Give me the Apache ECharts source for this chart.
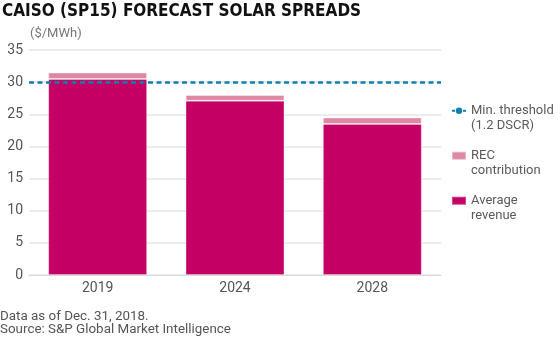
<!DOCTYPE html>
<html><head><meta charset="utf-8">
<script src="https://cdn.jsdelivr.net/npm/echarts@6/dist/echarts.min.js"></script>
<style>html,body{margin:0;padding:0;background:#fff}#c{width:560px;height:339px}</style>
</head><body><div id="c"></div>
<script>
const categories = ['2019', '2024', '2028'];
const averageRevenue = [30.5, 27.1, 23.5];
const recContribution = [1.0, 0.9, 1.0];
const minThreshold = 30;
const yTicks = { min: 0, max: 35, interval: 5 };

const FONT = 'Roboto';
const chart = echarts.init(document.getElementById('c'), null, { renderer: 'canvas' });
chart.setOption({
  animation: false,
  title: [
    { text: 'CAISO (SP15) FORECAST SOLAR SPREADS', left: -3, top: -2,
      textStyle: { fontFamily: 'DejaVu Sans Condensed, Roboto', fontWeight: 'bold', fontSize: 17, color: '#111' } },
    { text: '($/MWh)', left: 25, top: 22,
      textStyle: { fontFamily: FONT, fontWeight: 'normal', fontSize: 13, color: '#777' } },
    { text: 'Data as of Dec. 31, 2018.\nSource: S&P Global Market Intelligence', left: -5, top: 304.5,
      textStyle: { fontFamily: FONT, fontWeight: 'normal', fontSize: 13.4, lineHeight: 13.5, color: '#555' } }
  ],
  grid: { left: 29, right: 119, top: 50, bottom: 64, containLabel: false },
  legend: {
    orient: 'vertical', left: 446, top: 84, itemGap: 1.5, itemWidth: 14, itemHeight: 8,
    textStyle: { color: '#5a5a5a', fontSize: 13, fontFamily: FONT, lineHeight: 14.5 },
    formatter: function (name) { return ' \n' + name; },
    data: [
      { name: 'Min. threshold\n(1.2 DSCR)' },
      { name: 'REC\ncontribution', icon: 'rect' },
      { name: 'Average\nrevenue', icon: 'rect' }
    ]
  },
  xAxis: {
    type: 'category', data: categories,
    axisLine: { lineStyle: { color: '#d9d9d9', width: 1 } },
    axisTick: { show: false },
    axisLabel: { color: '#555', fontSize: 14, fontFamily: FONT, margin: 6 }
  },
  yAxis: {
    type: 'value', min: yTicks.min, max: yTicks.max, interval: yTicks.interval,
    axisLine: { show: false }, axisTick: { show: false },
    axisLabel: { color: '#555', fontSize: 14, fontFamily: FONT, margin: 6 },
    splitLine: { lineStyle: { color: '#e6e6e6', width: 1.5 } }
  },
  series: [
    { name: 'Average\nrevenue', type: 'bar', stack: 's', data: averageRevenue, barWidth: '72%',
      itemStyle: { color: '#c50064', borderColor: 'rgba(255,255,255,0.25)', borderWidth: 1 } },
    { name: 'REC\ncontribution', type: 'bar', stack: 's', data: recContribution, barWidth: '72%',
      itemStyle: { color: '#de88a4', borderColor: 'rgba(255,255,255,0.4)', borderWidth: 1 } },
    { name: 'Min. threshold\n(1.2 DSCR)', type: 'line', data: [], symbol: 'none', z: 5,
      itemStyle: { color: '#0e7fae' },
      lineStyle: { color: '#0e7fae', width: 3, type: [3, 2.5] },
      markLine: { silent: true, symbol: 'none', label: { show: false },
        lineStyle: { color: '#0e7fae', width: 2.6, type: [5, 3.5] },
        data: [{ yAxis: minThreshold }] } }
  ]
});
</script></body></html>
